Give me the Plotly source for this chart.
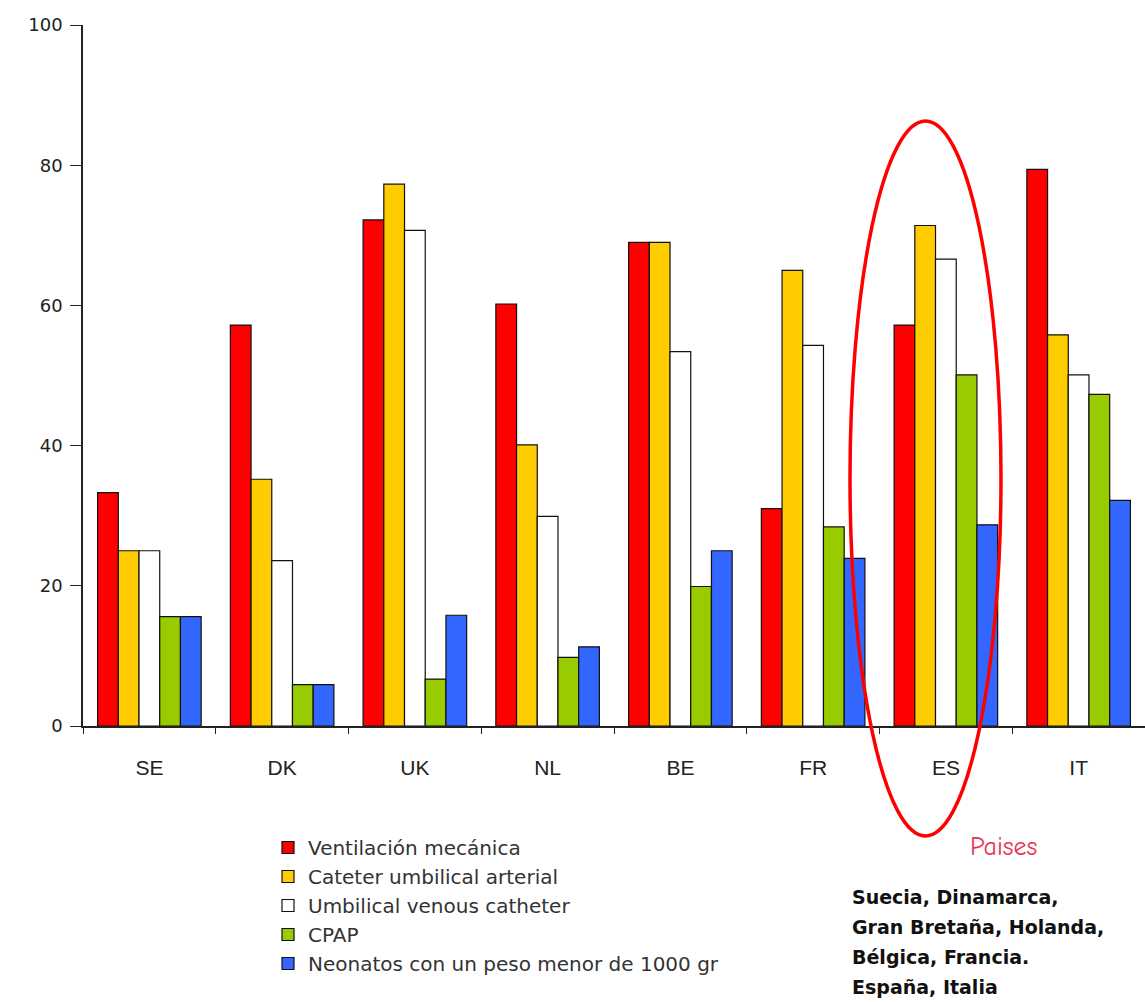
import plotly.graph_objects as go

paises = ["SE", "DK", "UK", "NL", "BE", "FR", "ES", "IT"]

ventilacion = [33.3, 57.2, 72.2, 60.2, 69.0, 31.0, 57.2, 79.4]
cateter_arterial = [25.0, 35.2, 77.3, 40.1, 69.0, 65.0, 71.4, 55.8]
cateter_venoso = [25.0, 23.6, 70.7, 29.9, 53.4, 54.3, 66.6, 50.1]
cpap = [15.6, 5.9, 6.7, 9.8, 19.9, 28.4, 50.1, 47.3]
menor_1000 = [15.6, 5.9, 15.8, 11.3, 25.0, 23.9, 28.7, 32.2]

series = [
    ("Ventilación mecánica", ventilacion, "#FF0000"),
    ("Cateter umbilical arterial", cateter_arterial, "#FFCC00"),
    ("Umbilical venous catheter", cateter_venoso, "#FFFFFF"),
    ("CPAP", cpap, "#99CC00"),
    ("Neonatos con un peso menor de 1000 gr", menor_1000, "#3366FF"),
]

lista_paises = ["Suecia, Dinamarca,", "Gran Bretaña, Holanda,",
                "Bélgica, Francia.", "España, Italia"]

fig = go.Figure()
for nombre, valores, color in series:
    fig.add_trace(go.Bar(
        x=paises, y=valores, name=nombre,
        marker=dict(color=color, line=dict(color="#111111", width=1.2)),
    ))

W, H = 1145, 1002
ml, mr, mt, mb = 83, 0, 25, 276
pw, ph = W - ml - mr, H - mt - mb


def px_x(p):
    return (p - ml) / pw


def px_y(p):
    return (H - mb - p) / ph


fig.update_layout(
    width=W, height=H,
    margin=dict(l=ml, r=mr, t=mt, b=mb),
    paper_bgcolor="white", plot_bgcolor="white",
    barmode="group", bargap=0.22, bargroupgap=0,
    font=dict(family="Liberation Sans, Arial, sans-serif", color="#222222"),
    showlegend=True,
    legend=dict(
        x=px_x(268), y=px_y(828), xanchor="left", yanchor="top",
        font=dict(size=20, color="#333333", family="DejaVu Sans, sans-serif"),
        bgcolor="rgba(0,0,0,0)", itemwidth=30, tracegroupgap=0,
    ),
    xaxis=dict(
        showline=True, linecolor="#222222", linewidth=1.5,
        ticks="outside", tickson="boundaries", ticklen=6, tickcolor="#222222",
        tickfont=dict(size=21, color="#222222"), ticklabelstandoff=22,
        showgrid=False, zeroline=False,
    ),
    yaxis=dict(
        range=[0, 100], dtick=20,
        showline=True, linecolor="#222222", linewidth=1.5,
        ticks="outside", ticklen=11, tickcolor="#222222",
        tickfont=dict(size=18, color="#222222", family="DejaVu Sans, sans-serif"),
        ticklabelstandoff=4,
        showgrid=False, zeroline=False,
    ),
    shapes=[dict(
        type="circle", xref="paper", yref="paper",
        x0=px_x(850), x1=px_x(1001), y0=px_y(836), y1=px_y(121),
        line=dict(color="#FF0000", width=3.5),
    )],
)

fig.add_annotation(
    x=px_x(1003), y=px_y(847), xref="paper", yref="paper",
    text="Paises", showarrow=False, xanchor="center", yanchor="middle",
    font=dict(size=26, color="#E8334F", family="Comic Neue, DejaVu Sans, sans-serif"),
)

for i, linea in enumerate(lista_paises):
    fig.add_annotation(
        x=px_x(850), y=px_y(897 + 30 * i), xref="paper", yref="paper",
        text=linea, showarrow=False, xanchor="left", yanchor="middle",
        font=dict(size=19, color="#111111", weight="bold",
                  family="DejaVu Sans, sans-serif"),
    )

fig.write_html("out.html")
